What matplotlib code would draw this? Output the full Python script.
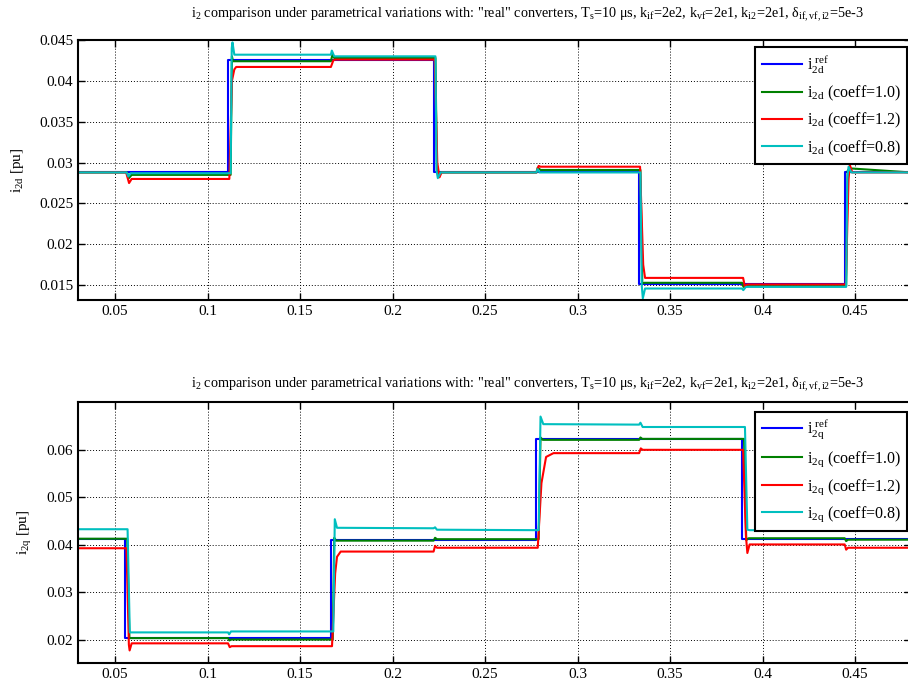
import matplotlib
matplotlib.use('Agg')
import matplotlib.pyplot as plt

plt.rcParams['font.family'] = ['Liberation Serif', 'DejaVu Serif']
plt.rcParams['mathtext.fontset'] = 'custom'
plt.rcParams['mathtext.rm'] = 'Liberation Serif'
plt.rcParams['mathtext.it'] = 'Liberation Serif'
plt.rcParams['font.size'] = 11

# step instants of the references: k/18 s
# ---- i2d panel ----
d_ref_t = [0.03, 0.1111, 0.1111, 0.2222, 0.2222, 0.3333, 0.3333, 0.4444, 0.4444, 0.48]
d_ref = [0.0288, 0.0288, 0.0425, 0.0425, 0.0288, 0.0288, 0.0151, 0.0151, 0.0288, 0.0288]

d_c10_t = [0.03, 0.0565, 0.0575, 0.059, 0.1125, 0.1132, 0.1138, 0.1667, 0.1675, 0.1685,
           0.2232, 0.2240, 0.2250, 0.2262, 0.2778, 0.2785, 0.2800, 0.3340, 0.3350, 0.3360,
           0.3889, 0.3897, 0.3910, 0.4452, 0.4460, 0.4470, 0.48]
d_c10 = [0.0288, 0.0288, 0.0281, 0.0285, 0.0285, 0.0430, 0.0424, 0.0424, 0.0432, 0.0428,
         0.0428, 0.0290, 0.0285, 0.0288, 0.0288, 0.0294, 0.0291, 0.0291, 0.0152, 0.0153,
         0.0153, 0.0148, 0.0149, 0.0149, 0.0290, 0.0293, 0.0288]

d_c12_t = [0.03, 0.0560, 0.0576, 0.0590, 0.1118, 0.1132, 0.1145, 0.1155, 0.1667, 0.1680,
           0.1690, 0.2228, 0.2242, 0.2254, 0.2265, 0.2778, 0.2790, 0.2800, 0.3338, 0.3355,
           0.3365, 0.3895, 0.3905, 0.3915, 0.4450, 0.4465, 0.4472, 0.4485, 0.48]
d_c12 = [0.0288, 0.0288, 0.0275, 0.0280, 0.0280, 0.0400, 0.0414, 0.0417, 0.0417, 0.0425,
         0.0426, 0.0426, 0.0300, 0.0282, 0.0288, 0.0288, 0.0296, 0.0295, 0.0295, 0.0175,
         0.0159, 0.0159, 0.0148, 0.0151, 0.0151, 0.0280, 0.0297, 0.0288, 0.0288]

d_c08_t = [0.03, 0.0563, 0.0572, 0.0585, 0.1125, 0.1131, 0.1135, 0.1145, 0.1667, 0.1672,
           0.1685, 0.2232, 0.2238, 0.2245, 0.2260, 0.2778, 0.2784, 0.2795, 0.3340, 0.3347,
           0.3353, 0.3365, 0.3889, 0.3896, 0.3910, 0.4452, 0.4458, 0.4465, 0.4480, 0.48]
d_c08 = [0.0288, 0.0288, 0.0283, 0.0287, 0.0287, 0.0440, 0.0447, 0.0432, 0.0432, 0.0437,
         0.0430, 0.0430, 0.0290, 0.0281, 0.0288, 0.0288, 0.0292, 0.0288, 0.0288, 0.0150,
         0.0134, 0.0146, 0.0146, 0.0144, 0.0148, 0.0148, 0.0280, 0.0295, 0.0288, 0.0288]

# ---- i2q panel ----
q_ref_t = [0.03, 0.0556, 0.0556, 0.1667, 0.1667, 0.2778, 0.2778, 0.3889, 0.3889, 0.48]
q_ref = [0.0413, 0.0413, 0.0204, 0.0204, 0.0411, 0.0411, 0.0622, 0.0622, 0.0413, 0.0413]

q_c10_t = [0.03, 0.0566, 0.0578, 0.1111, 0.1118, 0.1128, 0.1677, 0.1685, 0.1695, 0.2222,
           0.2230, 0.2240, 0.2790, 0.2800, 0.2812, 0.3333, 0.3340, 0.3350, 0.3900, 0.3912,
           0.3925, 0.4444, 0.4452, 0.4462, 0.48]
q_c10 = [0.0413, 0.0413, 0.0204, 0.0204, 0.0199, 0.0201, 0.0201, 0.0415, 0.0409, 0.0409,
         0.0415, 0.0412, 0.0412, 0.0626, 0.0621, 0.0621, 0.0626, 0.0623, 0.0623, 0.0410,
         0.0414, 0.0414, 0.0408, 0.0411, 0.0411]

q_c12_t = [0.03, 0.0562, 0.0575, 0.0579, 0.0590, 0.1111, 0.1120, 0.1130, 0.1673, 0.1690,
           0.1700, 0.1720, 0.2222, 0.2230, 0.2240, 0.2785, 0.2805, 0.2830, 0.2870, 0.3333,
           0.3342, 0.3352, 0.3895, 0.3910, 0.3918, 0.3930, 0.4444, 0.4452, 0.4462, 0.48]
q_c12 = [0.0393, 0.0393, 0.0190, 0.0178, 0.0193, 0.0193, 0.0185, 0.0187, 0.0187, 0.0340,
         0.0375, 0.0386, 0.0386, 0.0398, 0.0394, 0.0394, 0.0530, 0.0585, 0.0593, 0.0593,
         0.0603, 0.0600, 0.0600, 0.0420, 0.0383, 0.0401, 0.0401, 0.0390, 0.0394, 0.0394]

q_c08_t = [0.03, 0.0568, 0.0580, 0.1111, 0.1117, 0.1127, 0.1680, 0.1688, 0.1700, 0.2222,
           0.2230, 0.2240, 0.2790, 0.2800, 0.2815, 0.3333, 0.3340, 0.3352, 0.3905, 0.3918,
           0.3930, 0.4444, 0.4452, 0.4462, 0.48]
q_c08 = [0.0433, 0.0433, 0.0216, 0.0216, 0.0212, 0.0218, 0.0218, 0.0454, 0.0436, 0.0435,
         0.0437, 0.0432, 0.0431, 0.0670, 0.0654, 0.0653, 0.0657, 0.0648, 0.0648, 0.0432,
         0.0431, 0.0431, 0.0434, 0.0433, 0.0433]

xticks = [0.05, 0.1, 0.15, 0.2, 0.25, 0.3, 0.35, 0.4, 0.45]
d_yticks = [0.015, 0.02, 0.025, 0.03, 0.035, 0.04, 0.045]
q_yticks = [0.02, 0.03, 0.04, 0.05, 0.06]

colors = ['#0000ff', '#008000', '#ff0000', '#00bfbf']
title = (r'i$_\mathrm{2}$ comparison under parametrical variations with: "real" converters, '
         r'T$_\mathrm{s}$=10 $\mathrm{\mu}$s, k$_\mathrm{if}$=2e2, k$_\mathrm{vf}$=2e1, '
         r'k$_\mathrm{i2}$=2e1, $\mathrm{\delta}_\mathrm{if,vf,i2}$=5e-3')

fig = plt.figure(figsize=(9.08, 6.88), dpi=100)
ax1 = fig.add_axes([0.0859, 0.5640, 0.9169, 0.3779])
ax2 = fig.add_axes([0.0859, 0.0359, 0.9169, 0.3794])

panels = [
    (ax1, 'd', [(d_ref_t, d_ref), (d_c10_t, d_c10), (d_c12_t, d_c12), (d_c08_t, d_c08)],
     (0.0132, 0.045), d_yticks, 0.9321, 16),
    (ax2, 'q', [(q_ref_t, q_ref), (q_c10_t, q_c10), (q_c12_t, q_c12), (q_c08_t, q_c08)],
     (0.0151, 0.07), q_yticks, 0.4016, 10),
]

for ax, k, series, ylim, yt, leg_y, tpad in panels:
    labels = [r'$\mathrm{i_{2%s}^{\ ref}}$' % k,
              r'$\mathrm{i_{2%s}}$ (coeff=1.0)' % k,
              r'$\mathrm{i_{2%s}}$ (coeff=1.2)' % k,
              r'$\mathrm{i_{2%s}}$ (coeff=0.8)' % k]
    for (t, v), c, lab in zip(series, colors, labels):
        ax.plot(t, v, color=c, lw=1.5, label=lab)
    ax.set_xlim(0.03, 0.48)
    ax.set_ylim(*ylim)
    ax.set_xticks(xticks)
    ax.set_xticklabels(['%g' % x for x in xticks])
    ax.set_yticks(yt)
    ax.set_yticklabels(['%g' % y for y in yt])
    ax.grid(True, color='black', linestyle=(0, (1, 2)), lw=0.7)
    ax.tick_params(direction='in', top=True, right=True, length=5, width=1, labelsize=11)
    for s in ax.spines.values():
        s.set_linewidth(1.5)
    ax.set_ylabel(r'$\mathrm{i_{2%s}}$ [pu]' % k, fontsize=11, labelpad=9)
    ax.set_title(title, fontsize=10.3, pad=tpad, x=0.5405)
    leg = ax.legend(loc='upper right', bbox_to_anchor=(0.9989, leg_y),
                    bbox_transform=fig.transFigure, fancybox=False, framealpha=1,
                    edgecolor='black', fontsize=11.5, handlelength=2.5,
                    handletextpad=0.3, labelspacing=0.5, borderpad=0.4,
                    borderaxespad=0)
    leg.get_frame().set_linewidth(1.5)

fig.savefig('out.png', dpi=100)
